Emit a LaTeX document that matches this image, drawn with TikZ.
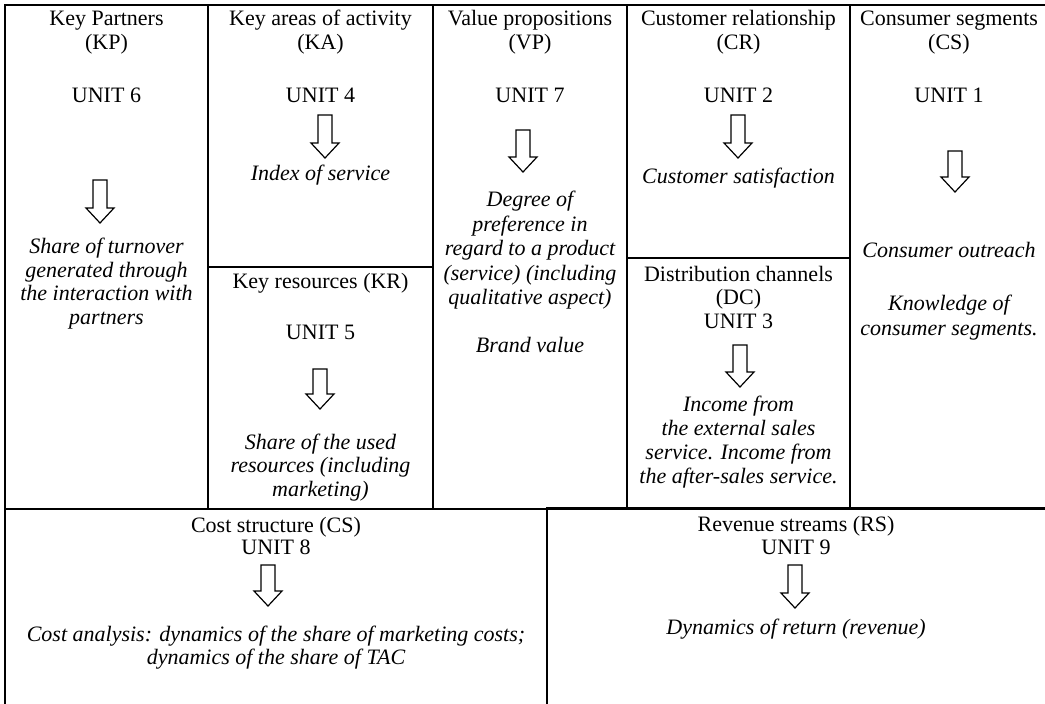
\documentclass[tikz,border=0pt]{standalone}
\usepackage{fontspec}
\setmainfont{Liberation Serif}
\begin{document}
\begin{tikzpicture}[x=1pt,y=-1pt,
  cell/.style={draw=black, line width=1.8pt, rectangle, inner sep=0pt, outer sep=0pt, anchor=north west},
  head/.style={align=center, inner sep=0pt, font=\fontsize{22}{24.5}\selectfont},
  note/.style={align=center, inner sep=0pt, font=\fontsize{22}{24.5}\selectfont\itshape},
  tight/.style={font=\fontsize{22}{23.5}\selectfont\itshape},
  pics/blockarrow/.style={code={
    \draw[line width=1.2pt, line join=miter, fill=white]
      (-7,0) -- (7,0) -- (7,#1-15) -- (14,#1-15) -- (0,#1) -- (-14,#1-15) -- (-7,#1-15) -- cycle;}}
]
\clip (0,0) rectangle (1045,704);
\fill[white] (0,0) rectangle (1045,704);

% canvas cells
\node[cell, minimum width=203, minimum height=504] (kp) at (5,5) {};
\node[cell, minimum width=225, minimum height=262] (ka) at (208,5) {};
\node[cell, minimum width=225, minimum height=242] (kr) at (208,267) {};
\node[cell, minimum width=194, minimum height=504] (vp) at (433,5) {};
\node[cell, minimum width=223, minimum height=253] (cr) at (627,5) {};
\node[cell, minimum width=223, minimum height=251] (dc) at (627,258) {};
\node[cell, minimum width=215, minimum height=504] (cs) at (850,5) {};
\node[cell, minimum width=542, minimum height=215] (cost) at (5,509) {};
\node[cell, minimum width=518, minimum height=216] (rev) at (547,508) {};

% Key partners
\node[head] (kph) at (106.5,32.5) {\strut Key Partners\\(KP)\strut};
\node[head] (kpu) at (106.5,97.5) {\strut UNIT 6\strut};
\pic at (100,180) {blockarrow=43};
\node[note, tight] (kpt) at (106.5,284.5) {\strut Share of turnover\\generated through\\the interaction with\\partners\strut};

% Key areas of activity
\node[head] (kah) at (320.5,32.5) {\strut Key areas of activity\\(KA)\strut};
\node[head] (kau) at (320.5,97.5) {\strut UNIT 4\strut};
\pic at (325,115) {blockarrow=43};
\node[note] (kat) at (320.5,176) {\strut Index of service\strut};

% Key resources
\node[head] (krh) at (320.5,284) {\strut Key resources (KR)\strut};
\node[head] (kru) at (320.5,335) {\strut UNIT 5\strut};
\pic at (320,369) {blockarrow=40};
\node[note, tight] (krt) at (320.5,468) {\strut Share of the used\\resources (including\\marketing)\strut};

% Value propositions
\node[head] (vph) at (530,32.5) {\strut Value propositions\\(VP)\strut};
\node[head] (vpu) at (530,97.5) {\strut UNIT 7\strut};
\pic at (523,130) {blockarrow=42};
\node[note] (vpt) at (530,251) {\strut Degree of\\preference in\\regard to a product\\(service) (including\\qualitative aspect)\strut};
\node[note] (vpb) at (530,348) {\strut Brand value\strut};

% Customer relationship
\node[head] (crh) at (738.5,32.5) {\strut Customer relationship\\(CR)\strut};
\node[head] (cru) at (738.5,97.5) {\strut UNIT 2\strut};
\pic at (738,115) {blockarrow=43};
\node[note] (crt) at (738.5,179) {\strut Customer satisfaction\strut};

% Distribution channels
\node[head, font=\fontsize{22}{23.5}\selectfont] (dch) at (738.5,300) {\strut Distribution channels\\(DC)\\UNIT 3\strut};
\pic at (740,345) {blockarrow=42};
\node[note, font=\fontsize{22}{24}\selectfont\itshape] (dct) at (738.5,443) {\strut Income from\\the external sales\\service. Income from\\the after-sales service.\strut};

% Consumer segments
\node[head] (csh) at (949,32.5) {\strut Consumer segments\\(CS)\strut};
\node[head] (csu) at (949,97.5) {\strut UNIT 1\strut};
\pic at (955,151) {blockarrow=41};
\node[note] (cso) at (949,253) {\strut Consumer outreach\strut};
\node[note] (csk) at (949,318) {\strut Knowledge of\\consumer segments.\strut};

% Cost structure
\node[head] (coh) at (276,528) {\strut Cost structure (CS)\strut};
\node[head] (cou) at (276,550) {\strut UNIT 8\strut};
\pic at (268,565) {blockarrow=41};
\node[note, tight] (cot) at (276,648.5) {\strut Cost analysis: dynamics of the share of marketing costs;\\dynamics of the share of TAC\strut};

% Revenue streams
\node[head] (rvh) at (796,527) {\strut Revenue streams (RS)\strut};
\node[head] (rvu) at (796,550) {\strut UNIT 9\strut};
\pic at (795,565) {blockarrow=43};
\node[note] (rvt) at (796,630) {\strut Dynamics of return (revenue)\strut};
\end{tikzpicture}
\end{document}
